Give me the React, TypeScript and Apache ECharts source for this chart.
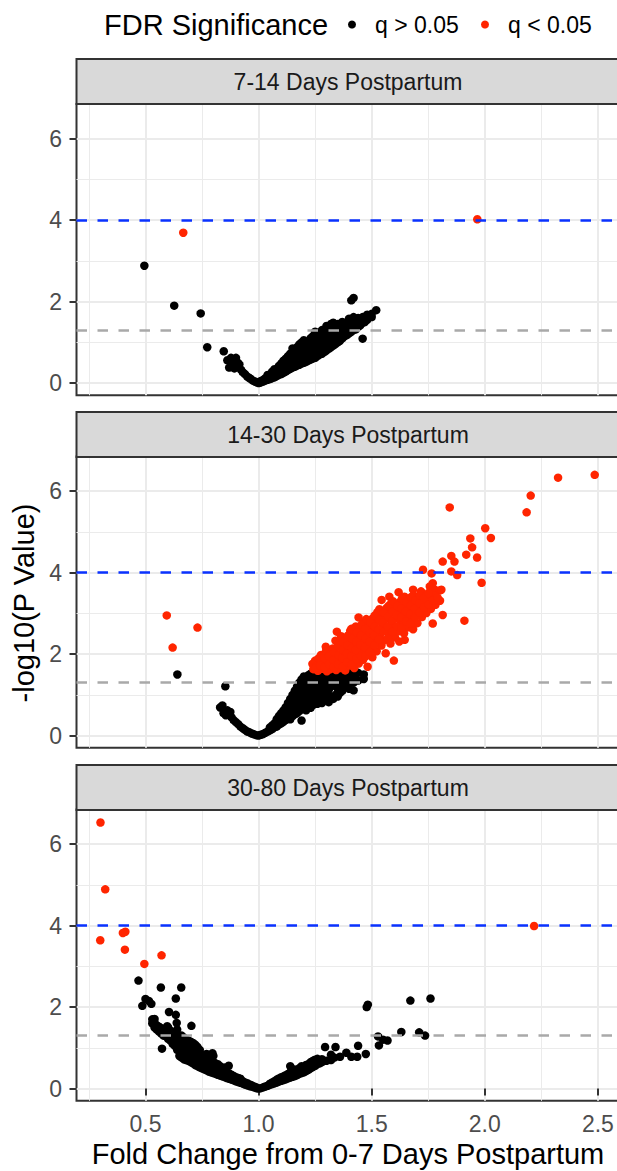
import React, { useEffect, useRef } from "react";
import * as echarts from "echarts";

const panelTitles = ["7-14 Days Postpartum", "14-30 Days Postpartum", "30-80 Days Postpartum"];
const legendTitle = "FDR Significance";
const legendLabels = ["q > 0.05", "q < 0.05"];
const xTitle = "Fold Change from 0-7 Days Postpartum";
const yTitle = "-log10(P Value)";
const xTicks = [0.5, 1.0, 1.5, 2.0, 2.5];
const yTicks = [0, 2, 4, 6];
const fdrLine = 4;
const pLine = 1.3;

// 7-14 Days: q > 0.05
const p1Ns: number[][] = [
  [0.495, 2.88], [0.627, 1.9], [0.744, 1.71], [0.773, 0.88], [0.846, 0.78],
  [0.862, 0.56], [0.87, 0.38], [0.878, 0.62], [0.885, 0.45], [0.893, 0.36], [0.9, 0.62], [0.908, 0.5],
  [0.915, 0.46], [0.922, 0.33], [0.93, 0.27], [0.94, 0.22], [0.95, 0.16], [0.958, 0.13], [0.966, 0.1],
  [0.975, 0.06], [0.984, 0.04], [0.992, 0.02], [1.0, 0.0],
  [1.005, 0.01], [1.01, 0.02], [1.01, 0.05], [1.02, 0.04], [1.02, 0.08], [1.03, 0.06], [1.03, 0.12],
  [1.04, 0.08], [1.04, 0.15], [1.04, 0.2], [1.05, 0.1], [1.05, 0.18], [1.06, 0.12], [1.06, 0.22], [1.06, 0.28],
  [1.07, 0.14], [1.07, 0.25], [1.07, 0.34], [1.08, 0.17], [1.08, 0.3], [1.09, 0.2], [1.09, 0.35], [1.09, 0.42],
  [1.1, 0.22], [1.1, 0.3], [1.1, 0.48], [1.11, 0.25], [1.11, 0.4], [1.11, 0.55], [1.12, 0.28], [1.12, 0.45],
  [1.12, 0.6], [1.13, 0.32], [1.13, 0.5], [1.13, 0.66], [1.14, 0.35], [1.14, 0.55], [1.14, 0.72],
  [1.15, 0.38], [1.15, 0.62], [1.15, 0.85], [1.16, 0.4], [1.16, 0.58], [1.16, 0.78], [1.17, 0.43],
  [1.17, 0.65], [1.17, 0.88], [1.18, 0.45], [1.18, 0.7], [1.18, 0.95], [1.19, 0.48], [1.19, 0.62],
  [1.19, 0.82], [1.19, 1.0], [1.2, 0.5], [1.2, 0.75], [1.2, 1.05], [1.21, 0.52], [1.21, 0.68], [1.21, 0.9],
  [1.22, 0.55], [1.22, 0.8], [1.22, 1.02], [1.23, 0.58], [1.23, 0.72], [1.23, 0.95], [1.23, 1.1],
  [1.24, 0.6], [1.24, 0.85], [1.24, 1.15], [1.25, 0.62], [1.25, 0.78], [1.25, 1.0], [1.25, 1.26],
  [1.26, 0.66], [1.26, 0.9], [1.26, 1.12], [1.27, 0.7], [1.27, 0.85], [1.27, 1.05], [1.27, 1.22],
  [1.28, 0.72], [1.28, 0.95], [1.28, 1.3], [1.29, 0.76], [1.29, 1.1], [1.29, 1.25], [1.3, 0.8], [1.3, 0.98],
  [1.3, 1.18], [1.3, 1.4], [1.31, 0.84], [1.31, 1.05], [1.31, 1.32], [1.32, 0.88], [1.32, 1.15], [1.32, 1.45],
  [1.33, 0.92], [1.33, 1.08], [1.33, 1.28], [1.33, 1.48], [1.34, 0.96], [1.34, 1.2], [1.34, 1.38],
  [1.35, 1.0], [1.35, 1.15], [1.35, 1.45], [1.36, 1.04], [1.36, 1.25], [1.36, 1.42], [1.37, 1.1],
  [1.37, 1.3], [1.37, 1.5], [1.38, 1.15], [1.38, 1.35], [1.39, 1.18], [1.39, 1.28], [1.39, 1.45],
  [1.4, 1.22], [1.4, 1.4], [1.4, 1.58], [1.41, 1.26], [1.41, 1.5], [1.41, 2.03], [1.42, 1.3], [1.42, 1.45],
  [1.42, 1.62], [1.42, 2.09], [1.43, 1.32], [1.43, 1.55], [1.44, 1.38], [1.44, 1.6], [1.45, 1.42],
  [1.45, 1.55], [1.46, 1.09], [1.46, 1.48], [1.46, 1.62], [1.47, 1.5], [1.47, 1.6], [1.48, 1.55],
  [1.48, 1.68], [1.5, 1.62], [1.5, 1.7], [1.52, 1.79],
];
// 7-14 Days: q < 0.05
const p1Sig: number[][] = [[0.667, 3.69], [1.967, 4.02]];

// 14-30 Days: q > 0.05
const p2Ns: number[][] = [
  [0.641, 1.5], [0.853, 1.21],
  [0.83, 0.69], [0.84, 0.74], [0.845, 0.55], [0.855, 0.5], [0.862, 0.62], [0.875, 0.58], [0.88, 0.45],
  [0.89, 0.38], [0.9, 0.33], [0.91, 0.28], [0.92, 0.22], [0.93, 0.18], [0.94, 0.14], [0.95, 0.1],
  [0.96, 0.08], [0.97, 0.05], [0.98, 0.03], [0.99, 0.01], [1.0, 0.0],
  [1.01, 0.02], [1.02, 0.04], [1.03, 0.07], [1.04, 0.1], [1.05, 0.13], [1.05, 0.2], [1.06, 0.16], [1.06, 0.25],
  [1.07, 0.2], [1.07, 0.3], [1.08, 0.22], [1.08, 0.4], [1.09, 0.27], [1.09, 0.35], [1.09, 0.48], [1.1, 0.3],
  [1.1, 0.55], [1.11, 0.34], [1.11, 0.45], [1.11, 0.62], [1.12, 0.38], [1.12, 0.7], [1.13, 0.42],
  [1.13, 0.58], [1.13, 0.8], [1.14, 0.4], [1.14, 0.65], [1.14, 0.9], [1.15, 0.48], [1.15, 0.75], [1.15, 1.0],
  [1.16, 0.52], [1.16, 0.85], [1.16, 1.1], [1.17, 0.55], [1.17, 0.7], [1.17, 0.95], [1.17, 1.2],
  [1.18, 0.6], [1.18, 0.8], [1.18, 1.05], [1.18, 1.3], [1.19, 0.37], [1.19, 0.65], [1.19, 0.9], [1.19, 1.15],
  [1.19, 1.38], [1.2, 0.7], [1.2, 1.0], [1.2, 1.25], [1.2, 1.45], [1.21, 0.62], [1.21, 0.85], [1.21, 1.1],
  [1.21, 1.35], [1.22, 0.72], [1.22, 0.95], [1.22, 1.2], [1.22, 1.48], [1.23, 0.68], [1.23, 0.88],
  [1.23, 1.05], [1.23, 1.3], [1.23, 1.52], [1.24, 0.75], [1.24, 1.0], [1.24, 1.18], [1.24, 1.42],
  [1.25, 0.8], [1.25, 1.1], [1.25, 1.3], [1.25, 1.54], [1.26, 0.78], [1.26, 0.95], [1.26, 1.22], [1.26, 1.45],
  [1.27, 0.85], [1.27, 1.05], [1.27, 1.35], [1.27, 1.55], [1.28, 0.8], [1.28, 0.98], [1.28, 1.15],
  [1.28, 1.48], [1.29, 0.9], [1.29, 1.25], [1.29, 1.4], [1.29, 1.55], [1.3, 0.88], [1.3, 1.05], [1.3, 1.32],
  [1.3, 1.5], [1.31, 0.82], [1.31, 1.12], [1.31, 1.45], [1.31, 1.56], [1.32, 0.95], [1.32, 1.2], [1.32, 1.38],
  [1.33, 0.9], [1.33, 1.3], [1.33, 1.52], [1.34, 1.0], [1.34, 1.25], [1.34, 1.45], [1.35, 0.96], [1.35, 1.15],
  [1.35, 1.38], [1.35, 1.55], [1.36, 1.05], [1.36, 1.3], [1.36, 1.5], [1.37, 1.1], [1.37, 1.42], [1.37, 1.56],
  [1.38, 1.2], [1.38, 1.35], [1.38, 1.5], [1.39, 1.25], [1.39, 1.45], [1.4, 1.15], [1.4, 1.4], [1.4, 1.55],
  [1.42, 1.11], [1.42, 1.3], [1.42, 1.48], [1.44, 1.35], [1.44, 1.54], [1.465, 1.39], [1.465, 1.5],
];
// 14-30 Days: q < 0.05
const p2Sig: number[][] = [
  [0.594, 2.95], [0.62, 2.16], [0.73, 2.65], [1.845, 5.6], [2.185, 5.48], [2.203, 5.89], [2.324, 6.33],
  [2.486, 6.4], [2.002, 5.09], [2.027, 4.85], [1.936, 4.84], [1.944, 4.62], [1.918, 4.44], [1.966, 4.37],
  [1.814, 4.27], [1.852, 4.41], [1.866, 4.27], [1.852, 4.03], [1.878, 3.94], [1.986, 3.75], [1.727, 4.07],
  [1.765, 3.98], [1.77, 3.74], [1.779, 3.58], [1.8, 3.56], [1.757, 3.66], [1.91, 2.82], [1.814, 2.96],
  [1.77, 2.75], [1.619, 3.52], [1.544, 3.33], [1.578, 3.41], [1.442, 2.9], [1.346, 2.55], [1.25, 1.84],
  [1.297, 2.18], [1.276, 1.98], [1.34, 2.33], [1.598, 1.84], [1.683, 3.58], [1.808, 3.58], [1.646, 2.35],
  [1.242, 1.63], [1.238, 1.76], [1.262, 1.59], [1.255, 1.71], [1.266, 1.9], [1.281, 1.64], [1.276, 1.8],
  [1.287, 1.96], [1.302, 1.58], [1.296, 1.73], [1.309, 1.87], [1.298, 2.07], [1.318, 1.63], [1.325, 1.79],
  [1.315, 2.0], [1.328, 2.14], [1.343, 1.61], [1.336, 1.72], [1.348, 1.92], [1.338, 2.12], [1.362, 1.66],
  [1.355, 1.84], [1.368, 2.02], [1.358, 2.26], [1.365, 2.44], [1.383, 1.6], [1.376, 1.77], [1.388, 1.97],
  [1.379, 2.16], [1.385, 2.36], [1.402, 1.72], [1.396, 1.9], [1.408, 2.06], [1.398, 2.31], [1.405, 2.57],
  [1.423, 1.66], [1.418, 1.82], [1.427, 2.02], [1.416, 2.21], [1.425, 2.47], [1.43, 2.68], [1.443, 1.77],
  [1.437, 1.96], [1.448, 2.17], [1.441, 2.38], [1.452, 2.62], [1.462, 1.86], [1.457, 2.12], [1.468, 2.29],
  [1.46, 2.56], [1.466, 2.78], [1.482, 1.69], [1.476, 2.02], [1.488, 2.24], [1.479, 2.47], [1.485, 2.71],
  [1.503, 1.92], [1.497, 2.14], [1.508, 2.41], [1.498, 2.62], [1.505, 2.88], [1.522, 2.07], [1.516, 2.32],
  [1.527, 2.54], [1.518, 2.79], [1.525, 3.03], [1.543, 2.21], [1.536, 2.46], [1.547, 2.69], [1.538, 2.93],
  [1.562, 2.02], [1.556, 2.34], [1.567, 2.62], [1.558, 2.86], [1.565, 3.13], [1.583, 2.26], [1.576, 2.48],
  [1.587, 2.76], [1.578, 3.02], [1.585, 3.24], [1.603, 2.41], [1.596, 2.66], [1.607, 2.88], [1.598, 3.11],
  [1.622, 2.31], [1.617, 2.56], [1.627, 2.79], [1.618, 3.06], [1.625, 3.28], [1.643, 2.51], [1.636, 2.74],
  [1.647, 2.96], [1.638, 3.19], [1.645, 3.41], [1.662, 2.66], [1.657, 2.89], [1.667, 3.12], [1.658, 3.34],
  [1.683, 2.61], [1.676, 2.86], [1.687, 3.04], [1.678, 3.26], [1.685, 3.44], [1.702, 2.76], [1.697, 2.99],
  [1.707, 3.21], [1.698, 3.39], [1.722, 2.91], [1.716, 3.11], [1.727, 3.29], [1.718, 3.54], [1.742, 3.01],
  [1.736, 3.24], [1.747, 3.46], [1.762, 3.11], [1.757, 3.34], [1.766, 3.59], [1.782, 3.21], [1.776, 3.44],
  [1.802, 3.31],
  [1.252, 1.66], [1.272, 1.72], [1.291, 1.68], [1.292, 1.9], [1.312, 1.75], [1.311, 1.95], [1.332, 1.68],
  [1.331, 1.86], [1.333, 2.05], [1.352, 1.75], [1.353, 1.98], [1.351, 2.2], [1.372, 1.7], [1.371, 1.9],
  [1.373, 2.1], [1.374, 2.3], [1.392, 1.8], [1.391, 2.02], [1.393, 2.22], [1.394, 2.45], [1.412, 1.75],
  [1.411, 1.95], [1.413, 2.15], [1.414, 2.38], [1.41, 2.62], [1.432, 1.88], [1.431, 2.1], [1.433, 2.3],
  [1.434, 2.53], [1.452, 1.95], [1.451, 2.22], [1.453, 2.46], [1.455, 2.72], [1.472, 1.94], [1.471, 2.16],
  [1.473, 2.38], [1.474, 2.62], [1.476, 2.86], [1.492, 2.05], [1.491, 2.3], [1.493, 2.52], [1.494, 2.78],
  [1.512, 2.22], [1.511, 2.46], [1.513, 2.68], [1.514, 2.95], [1.532, 2.36], [1.531, 2.6], [1.533, 2.84],
  [1.534, 3.1], [1.552, 2.55], [1.551, 2.78], [1.553, 3.02], [1.572, 2.38], [1.571, 2.68], [1.573, 2.92],
  [1.574, 3.18], [1.592, 2.55], [1.591, 2.82], [1.593, 3.04], [1.594, 3.3], [1.612, 2.68], [1.611, 2.95],
  [1.613, 3.18], [1.632, 2.65], [1.631, 2.9], [1.633, 3.12], [1.634, 3.36], [1.652, 2.8], [1.651, 3.05],
  [1.653, 3.28], [1.672, 2.75], [1.671, 2.98], [1.673, 3.2], [1.674, 3.4], [1.692, 2.9], [1.691, 3.12],
  [1.693, 3.32], [1.712, 3.02], [1.711, 3.25], [1.713, 3.45], [1.732, 3.15], [1.731, 3.38], [1.752, 3.22],
  [1.751, 3.5], [1.772, 3.32], [1.792, 3.38],
];

// 30-80 Days: q > 0.05
const p3Ns: number[][] = [
  [0.469, 2.65], [0.568, 2.48], [0.658, 2.48], [0.634, 2.21], [0.5, 2.2], [0.486, 2.03], [0.526, 2.08],
  [0.515, 2.15], [0.604, 1.88], [0.634, 1.81], [0.638, 1.61], [0.703, 1.54], [0.54, 1.71], [0.552, 1.53],
  [0.596, 1.53], [0.573, 0.98], [0.796, 0.87], [0.868, 0.56],
  [0.53, 1.6], [0.53, 1.7], [0.54, 1.5], [0.54, 1.62], [0.55, 1.45], [0.55, 1.55], [0.56, 1.4], [0.56, 1.52],
  [0.57, 1.35], [0.57, 1.48], [0.58, 1.3], [0.58, 1.42], [0.59, 1.28], [0.59, 1.45], [0.6, 1.22], [0.6, 1.38],
  [0.6, 1.5], [0.61, 1.18], [0.61, 1.3], [0.61, 1.42], [0.62, 1.1], [0.62, 1.25], [0.62, 1.35], [0.63, 1.05],
  [0.63, 1.2], [0.63, 1.32], [0.64, 0.95], [0.64, 1.12], [0.64, 1.28], [0.64, 1.45], [0.65, 0.8], [0.65, 0.92],
  [0.65, 1.05], [0.65, 1.2], [0.66, 0.76], [0.66, 0.88], [0.66, 1.0], [0.66, 1.15], [0.66, 1.3], [0.67, 0.72],
  [0.67, 0.85], [0.67, 0.98], [0.67, 1.12], [0.67, 1.25], [0.68, 0.7], [0.68, 0.82], [0.68, 0.95], [0.68, 1.08],
  [0.68, 1.2], [0.69, 0.68], [0.69, 0.8], [0.69, 0.92], [0.69, 1.05], [0.69, 1.18], [0.7, 0.65], [0.7, 0.78],
  [0.7, 0.9], [0.7, 1.02], [0.7, 1.15], [0.71, 0.62], [0.71, 0.75], [0.71, 0.88], [0.71, 1.0], [0.71, 1.12],
  [0.72, 0.58], [0.72, 0.7], [0.72, 0.82], [0.72, 0.95], [0.72, 1.08], [0.73, 0.55], [0.73, 0.66], [0.73, 0.78],
  [0.73, 0.9], [0.73, 1.02], [0.74, 0.52], [0.74, 0.62], [0.74, 0.75], [0.74, 0.86], [0.74, 0.95], [0.75, 0.5],
  [0.75, 0.6], [0.75, 0.72], [0.75, 0.82], [0.76, 0.47], [0.76, 0.57], [0.76, 0.68], [0.76, 0.78], [0.77, 0.45],
  [0.77, 0.55], [0.77, 0.65], [0.77, 0.75], [0.77, 0.85], [0.78, 0.42], [0.78, 0.52], [0.78, 0.62], [0.78, 0.72],
  [0.79, 0.4], [0.79, 0.5], [0.79, 0.6], [0.79, 0.7], [0.8, 0.38], [0.8, 0.47], [0.8, 0.57], [0.8, 0.65],
  [0.8, 0.8], [0.81, 0.36], [0.81, 0.45], [0.81, 0.55], [0.81, 0.62], [0.82, 0.34], [0.82, 0.42], [0.82, 0.52],
  [0.82, 0.6], [0.83, 0.32], [0.83, 0.4], [0.83, 0.48], [0.83, 0.55], [0.84, 0.3], [0.84, 0.38], [0.84, 0.45],
  [0.85, 0.28], [0.85, 0.35], [0.85, 0.42], [0.85, 0.52], [0.86, 0.26], [0.86, 0.33], [0.86, 0.4], [0.87, 0.24],
  [0.87, 0.3], [0.87, 0.37], [0.88, 0.22], [0.88, 0.28], [0.88, 0.34], [0.89, 0.2], [0.89, 0.26], [0.89, 0.31],
  [0.9, 0.18], [0.9, 0.24], [0.9, 0.28], [0.91, 0.16], [0.91, 0.22], [0.91, 0.26], [0.92, 0.14], [0.92, 0.2],
  [0.92, 0.24], [0.93, 0.12], [0.93, 0.18], [0.94, 0.1], [0.94, 0.15], [0.95, 0.08], [0.95, 0.13], [0.96, 0.06],
  [0.96, 0.1], [0.97, 0.05], [0.97, 0.08], [0.98, 0.03], [0.98, 0.05], [0.99, 0.01], [0.99, 0.03], [1.0, 0.0],
  [1.01, 0.01], [1.02, 0.03], [1.03, 0.05], [1.04, 0.07], [1.05, 0.09], [1.05, 0.12], [1.06, 0.11], [1.06, 0.15],
  [1.07, 0.13], [1.07, 0.18], [1.08, 0.15], [1.08, 0.22], [1.09, 0.17], [1.09, 0.25], [1.1, 0.19], [1.1, 0.28],
  [1.11, 0.21], [1.11, 0.3], [1.12, 0.23], [1.12, 0.33], [1.13, 0.25], [1.13, 0.36], [1.14, 0.27], [1.14, 0.4],
  [1.14, 0.55], [1.15, 0.29], [1.15, 0.43], [1.16, 0.31], [1.16, 0.47], [1.17, 0.33], [1.17, 0.45], [1.18, 0.36],
  [1.18, 0.5], [1.19, 0.38], [1.19, 0.55], [1.2, 0.4], [1.2, 0.52], [1.21, 0.43], [1.21, 0.58], [1.22, 0.46],
  [1.22, 0.6], [1.23, 0.5], [1.23, 0.65], [1.24, 0.53], [1.24, 0.68], [1.25, 0.56], [1.25, 0.71], [1.26, 0.6],
  [1.26, 0.73], [1.27, 0.62], [1.28, 0.65], [1.28, 0.72], [1.294, 1.02], [1.3, 0.68], [1.32, 0.83], [1.32, 0.7],
  [1.335, 0.76], [1.34, 1.02], [1.36, 0.78], [1.388, 0.88], [1.41, 0.78], [1.436, 0.78], [1.44, 1.05],
  [1.474, 0.85], [1.478, 2.0], [1.483, 2.06], [1.528, 1.28], [1.532, 1.06], [1.55, 1.2], [1.57, 1.18],
  [1.631, 1.39], [1.671, 2.16], [1.71, 1.38], [1.736, 1.3], [1.76, 2.21],
];
// 30-80 Days: q < 0.05
const p3Sig: number[][] = [
  [0.301, 6.53], [0.322, 4.89], [0.3, 3.64], [0.4, 3.82], [0.411, 3.85], [0.409, 3.41], [0.495, 3.06],
  [0.571, 3.27], [2.218, 3.99],
];

const nsData = [p1Ns, p2Ns, p3Ns];
const sigData = [p1Sig, p2Sig, p3Sig];

const FONT = "'Liberation Sans', Arial, Helvetica, sans-serif";
const RED = "#FF2500";
const BLUE = "#0A32FF";
const GREY_LINE = "#A9A9A9";
const gridTops = [104, 456.5, 809.5];
const stripTops = [59, 412, 765];
const GRID_LEFT = 76.5;
const GRID_W = 544;
const GRID_H = 291.3;
const STRIP_H = 45;
const CENTER_X = 348;
const DOT = 8.5;

function buildOption(): any {
  const grid = gridTops.map((t) => ({
    left: GRID_LEFT,
    top: t,
    width: GRID_W,
    height: GRID_H,
    show: true,
    borderColor: "#333333",
    borderWidth: 2,
    backgroundColor: "#FFFFFF",
    containLabel: false,
    outerBoundsMode: "none",
  }));

  const xAxis = [0, 1, 2].map((i) => ({
    type: "value",
    gridIndex: i,
    min: 0.195,
    max: 2.6,
    splitNumber: 5,
    axisLine: { show: false },
    axisTick: {
      show: i === 2,
      customValues: xTicks,
      length: 7,
      lineStyle: { color: "#333333", width: 2 },
    },
    axisLabel: {
      show: i === 2,
      customValues: xTicks,
      margin: 12,
      fontSize: 23,
      color: "#4D4D4D",
      fontFamily: FONT,
      formatter: (v: number) => (xTicks.includes(v) ? v.toFixed(1) : ""),
    },
    splitLine: { show: true, lineStyle: { color: "#EBEBEB", width: 2 } },
    minorTick: { show: false, splitNumber: 2 },
    minorSplitLine: { show: true, lineStyle: { color: "#EBEBEB", width: 1 } },
  }));

  const yAxis = [0, 1, 2].map((i) => ({
    type: "value",
    gridIndex: i,
    min: -0.3,
    max: 6.85,
    splitNumber: 3,
    axisLine: { show: false },
    axisTick: {
      show: true,
      customValues: yTicks,
      length: 7,
      lineStyle: { color: "#333333", width: 2 },
    },
    axisLabel: {
      show: true,
      customValues: yTicks,
      margin: 14.5,
      fontSize: 23,
      color: "#4D4D4D",
      fontFamily: FONT,
      formatter: (v: number) => (yTicks.includes(v) ? String(v) : ""),
    },
    splitLine: { show: true, lineStyle: { color: "#EBEBEB", width: 2 } },
    minorTick: { show: false, splitNumber: 2 },
    minorSplitLine: { show: true, lineStyle: { color: "#EBEBEB", width: 1 } },
  }));

  const series: any[] = [];
  [0, 1, 2].forEach((i) => {
    series.push({
      type: "scatter",
      xAxisIndex: i,
      yAxisIndex: i,
      data: [],
      silent: true,
      z: 1,
      markLine: {
        silent: true,
        symbol: "none",
        label: { show: false },
        data: [
          { yAxis: fdrLine, lineStyle: { color: BLUE, type: [10.5, 10.5], width: 2.5 } },
          { yAxis: pLine, lineStyle: { color: GREY_LINE, type: [10.5, 10.5], width: 2.5 } },
        ],
      },
    });
    series.push({
      type: "scatter",
      name: legendLabels[0],
      xAxisIndex: i,
      yAxisIndex: i,
      data: nsData[i],
      symbol: "circle",
      symbolSize: DOT,
      itemStyle: { color: "#000000", opacity: 1 },
      z: 3,
    });
    series.push({
      type: "scatter",
      name: legendLabels[1],
      xAxisIndex: i,
      yAxisIndex: i,
      data: sigData[i],
      symbol: "circle",
      symbolSize: DOT,
      itemStyle: { color: RED, opacity: 1 },
      z: 4,
    });
  });

  const graphic: any[] = [];
  stripTops.forEach((t, i) => {
    graphic.push({
      type: "rect",
      shape: { x: GRID_LEFT, y: t, width: GRID_W + 10, height: STRIP_H },
      style: { fill: "#D9D9D9", stroke: "#333333", lineWidth: 2 },
      z: 10,
    });
    graphic.push({
      type: "text",
      x: CENTER_X,
      y: t + STRIP_H / 2,
      style: {
        text: panelTitles[i],
        fontSize: 23,
        fontFamily: FONT,
        fill: "#1A1A1A",
        align: "center",
        verticalAlign: "middle",
      },
      z: 11,
    });
  });
  // legend
  graphic.push({
    type: "text",
    x: 104,
    y: 25,
    style: { text: legendTitle, fontSize: 29, fontFamily: FONT, fill: "#000000", align: "left", verticalAlign: "middle" },
  });
  graphic.push({ type: "circle", shape: { cx: 352, cy: 24.5, r: 4 }, style: { fill: "#000000" } });
  graphic.push({
    type: "text",
    x: 375,
    y: 25,
    style: { text: legendLabels[0], fontSize: 23, fontFamily: FONT, fill: "#000000", align: "left", verticalAlign: "middle" },
  });
  graphic.push({ type: "circle", shape: { cx: 485, cy: 24.5, r: 4 }, style: { fill: RED } });
  graphic.push({
    type: "text",
    x: 508,
    y: 25,
    style: { text: legendLabels[1], fontSize: 23, fontFamily: FONT, fill: "#000000", align: "left", verticalAlign: "middle" },
  });
  // axis titles
  graphic.push({
    type: "text",
    x: 24,
    y: 603,
    rotation: Math.PI / 2,
    style: { text: yTitle, fontSize: 29, fontFamily: FONT, fill: "#000000", align: "center", verticalAlign: "middle" },
  });
  graphic.push({
    type: "text",
    x: CENTER_X,
    y: 1154,
    style: { text: xTitle, fontSize: 29, fontFamily: FONT, fill: "#000000", align: "center", verticalAlign: "middle" },
  });

  return {
    animation: false,
    backgroundColor: "#FFFFFF",
    grid,
    xAxis,
    yAxis,
    series,
    graphic,
  };
}

export default function App() {
  const ref = useRef<HTMLDivElement>(null);
  useEffect(() => {
    document.body.style.margin = "0";
    const chart = echarts.init(ref.current as HTMLDivElement, null, { renderer: "svg" });
    chart.setOption(buildOption());
    return () => chart.dispose();
  }, []);
  return <div ref={ref} style={{ width: 617, height: 1171 }} />;
}
